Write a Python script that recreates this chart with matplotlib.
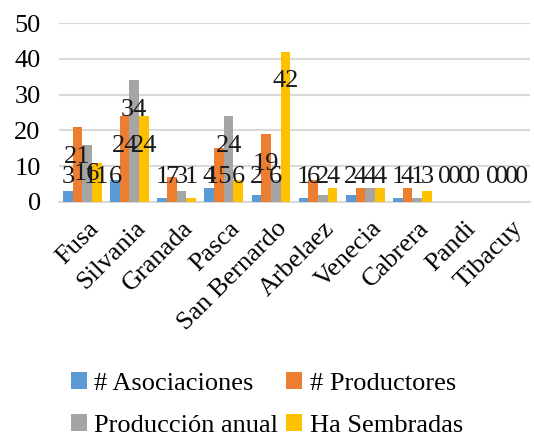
import matplotlib
matplotlib.use("Agg")
import matplotlib.pyplot as plt
from matplotlib import font_manager
import matplotlib.transforms as mtransforms
import numpy as np

categories = ["Fusa", "Silvania", "Granada", "Pasca", "San Bernardo",
              "Arbelaez", "Venecia", "Cabrera", "Pandi", "Tibacuy"]
asociaciones = [3, 6, 1, 4, 2, 1, 2, 1, 0, 0]
productores = [21, 24, 7, 15, 19, 6, 4, 4, 0, 0]
produccion = [16, 34, 3, 24, 6, 2, 4, 1, 0, 0]
ha_sembradas = [11, 24, 1, 6, 42, 4, 4, 3, 0, 0]
series_names = ["# Asociaciones", "# Productores", "Producción anual", "Ha Sembradas"]
colors = ["#5B9BD5", "#ED7D31", "#A5A5A5", "#FFC000"]
yticks = [0, 10, 20, 30, 40, 50]

serif_name = 'DejaVu Serif'
for cand in ['Liberation Serif', 'Times New Roman', 'Nimbus Roman']:
    try:
        font_manager.findfont(font_manager.FontProperties(family=cand),
                              fallback_to_default=False)
        serif_name = cand
        break
    except Exception:
        pass
plt.rcParams['font.family'] = [serif_name, 'DejaVu Serif']

FS = 19

fig = plt.figure(figsize=(5.34, 4.38), dpi=100)
ax = fig.add_axes([0.110, 0.539, 0.883, 0.408])

data = [asociaciones, productores, produccion, ha_sembradas]
x = np.arange(len(categories))
bw = 0.205
handles = []
for i, (vals, c, name) in enumerate(zip(data, colors, series_names)):
    pos = x + (i - 1.5) * bw
    h = ax.bar(pos, vals, width=bw, color=c, label=name, zorder=3)
    handles.append(h)
    for p, v in zip(pos, vals):
        ly = max(v - 8.3, 6.9)
        ax.text(p, ly, str(v), ha='center', va='center', fontsize=FS,
                color='#1a1a1a', zorder=4)

ax.set_xlim(-0.5, len(categories) - 0.5)
ax.set_ylim(0, 50)
ax.set_yticks(yticks)
ax.set_yticklabels([str(t) for t in yticks], fontsize=FS)
ax.yaxis.grid(True, color='#D9D9D9', linewidth=1.5, zorder=0)
ax.set_axisbelow(True)
for s in ['top', 'right', 'left']:
    ax.spines[s].set_visible(False)
ax.spines['bottom'].set_color('#D9D9D9')
ax.spines['bottom'].set_linewidth(1.5)
ax.tick_params(axis='both', length=0)
ax.tick_params(axis='y', pad=13)
ax.set_xticks(x)
ax.set_xticklabels(categories, rotation=45, ha='right', rotation_mode='anchor',
                   fontsize=FS)
ax.tick_params(axis='x', pad=11)
offset = mtransforms.ScaledTranslation(5 / 100, 0, fig.dpi_scale_trans)
for lbl in ax.get_xticklabels():
    lbl.set_transform(lbl.get_transform() + offset)

order = [0, 2, 1, 3]
leg = fig.legend([handles[i] for i in order], [series_names[i] for i in order],
                 loc='lower left', bbox_to_anchor=(0.088, -0.052), ncol=2,
                 frameon=False, fontsize=FS, handlelength=0.6, handleheight=0.6,
                 handletextpad=0.3, columnspacing=0.3, labelspacing=0.75)

fig.savefig("out.png", dpi=100)
